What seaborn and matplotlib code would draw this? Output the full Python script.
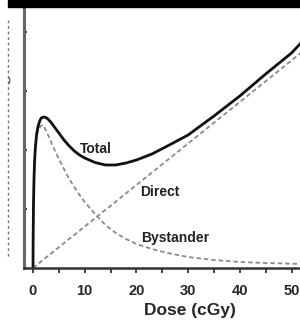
import pandas as pd
import matplotlib.pyplot as plt
import seaborn as sns
from matplotlib.lines import Line2D
from matplotlib.patches import Rectangle

# values (y in arbitrary units)
total_dose = [0, 0.03, 0.1, 0.2, 0.3, 0.45, 0.7, 1, 1.3, 1.6, 2, 2.5, 3, 3.5, 4, 5, 6, 7, 8, 9,
              10, 12, 14, 16, 18, 20, 23, 26, 30, 35, 40, 45, 50, 52]
total_val = [0, 30, 65, 90, 106, 120, 134, 142, 147, 150, 151, 150.5, 148.5, 145.5, 142, 135,
             128, 122, 117, 113, 110, 105.5, 103, 103, 105, 108, 114, 122, 133, 152, 172, 194,
             215, 226]

direct_dose = [0, 10, 20, 30, 40, 50, 52]
direct_val = [0, 41.5, 83, 124.5, 166, 207.5, 216]

byst_dose = [0, 0.03, 0.1, 0.2, 0.3, 0.45, 0.7, 1, 1.5, 2, 3, 4, 5, 6, 7, 8, 9, 10, 12, 14, 16,
             18, 20, 23, 26, 30, 35, 40, 45, 52]
byst_val = [0, 30, 65, 89, 105, 118, 131, 138, 142, 143, 132, 120, 109, 99, 89, 81, 73, 66, 54,
            43, 35, 29, 24, 19, 15, 11, 8, 6, 5, 4]

sns.set_style('ticks')
plt.rcParams['font.family'] = ['Liberation Sans', 'DejaVu Sans']

fig = plt.figure(figsize=(3.0, 3.21), dpi=100)
ax = fig.add_axes([24/300, 53/321, 276/300, 260/321])

sns.lineplot(x=direct_dose, y=direct_val, ax=ax, color='#8a8a8a', lw=1.3, dashes=(2.5, 1.6))
sns.lineplot(x=byst_dose, y=byst_val, ax=ax, color='#8a8a8a', lw=1.3, dashes=(2.5, 1.6))
sns.lineplot(x=total_dose, y=total_val, ax=ax, color='#111111', lw=2.0)

ax.text(12.2, 119, 'Total', fontsize=10, fontweight='bold', ha='center', va='center', color='#222')
ax.text(24.6, 76, 'Direct', fontsize=10, fontweight='bold', ha='center', va='center', color='#222')
ax.text(27.5, 30, 'Bystander', fontsize=10, fontweight='bold', ha='center', va='center', color='#222')

ax.set_xlim(-1.74, 51.64)
ax.set_ylim(0, 260)
ax.set_xticks([0, 10, 20, 30, 40, 50])
ax.set_xticks([5, 15, 25, 35, 45], minor=True)
ax.set_yticks([0, 59, 118, 177, 236])
ax.set_yticklabels([])
ax.tick_params(axis='x', which='both', direction='out', length=3.5, width=1.3, color='#333',
               labelsize=10.5, pad=8)
ax.tick_params(axis='y', direction='in', length=2, width=1.5, color='#444')
for lab in ax.get_xticklabels():
    lab.set_fontweight('bold')
ax.set_xlabel('Dose (cGy)', fontsize=12.5, fontweight='bold')
ax.xaxis.set_label_coords(0.60, -0.135)

sns.despine(ax=ax)
ax.spines['left'].set_linewidth(2.2)
ax.spines['left'].set_color('#666666')
ax.spines['bottom'].set_linewidth(1.8)
ax.spines['bottom'].set_color('#333333')

# pieces of the neighbouring panel
fig.add_artist(Rectangle((8/300, 1 - 7/321), 292/300, 7/321, color='black',
                         transform=fig.transFigure))
fig.add_artist(Line2D([8/300, 8/300], [1 - 20/321, 1 - 258/321], color='#777', lw=1,
                      ls=(0, (2, 2)), transform=fig.transFigure))
fig.text(9/300, 1 - 80/321, ')', fontsize=6, fontweight='bold', color='#555',
         ha='center', va='center')

fig.savefig('out.png', dpi=100)
